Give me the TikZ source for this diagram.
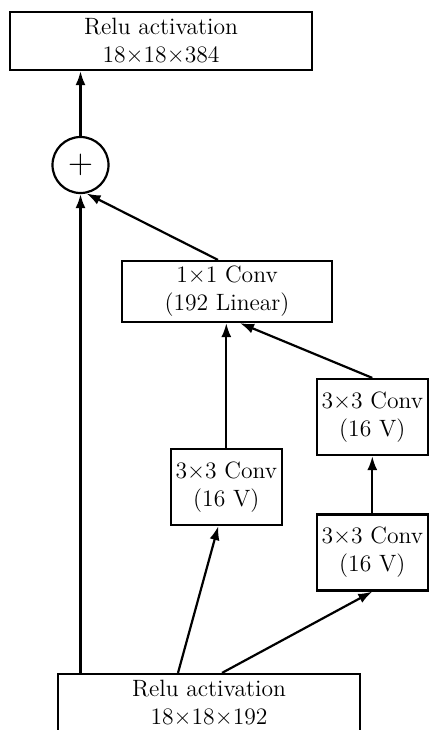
\documentclass[tikz,border=0pt]{standalone}
\usetikzlibrary{arrows.meta}

\begin{document}
\begin{tikzpicture}[x=.5pt,y=-.5pt,
  box/.style={draw,line width=1.1pt,align=center,inner sep=0pt,font=\fontsize{11.8}{14}\selectfont},
  conv/.style={box,minimum width=55.5pt,minimum height=38pt},
  arr/.style={line width=1.1pt,-{Latex[length=7pt,width=5pt]}}]
 \useasboundingbox (0,0) rectangle (429,730);
 \node[box,minimum width=151pt,minimum height=29pt] (top) at (161,41) {Relu activation\\18\texttimes18\texttimes384};
 \node[circle,draw,line width=1.1pt,minimum size=28pt,inner sep=0pt,font=\fontsize{17}{17}\selectfont] (plus) at (80.5,165) {$+$};
 \node[box,minimum width=105pt,minimum height=30.5pt] (lin) at (227,291.5) {1\texttimes1 Conv\\(192 Linear)};
 \node[conv] (c1) at (226.3,487) {3\texttimes3 Conv\\(16 V)};
 \node[conv] (c2) at (372.3,417) {3\texttimes3 Conv\\(16 V)};
 \node[conv] (c3) at (372.3,552.5) {3\texttimes3 Conv\\(16 V)};
 \node[box,minimum width=151pt,minimum height=29pt] (bot) at (209,703) {Relu activation\\18\texttimes18\texttimes192};
 \draw[arr] (plus) -- (plus |- top.south);
 \draw[arr] (plus.south |- bot.north) -- (plus.south);
 \draw[arr] ([xshift=-4.5pt]lin.north) -- (plus.-78);
 \draw[arr] (c1) -- (c1 |- lin.south);
 \draw[arr] (c2.north) -- ([xshift=6.5pt]lin.south);
 \draw[arr] (c3) -- (c2);
 \draw[arr] ([xshift=-15.5pt]bot.north) -- ([xshift=-4pt]c1.south);
 \draw[arr] ([xshift=6.5pt]bot.north) -- (c3.south);
\end{tikzpicture}
\end{document}
